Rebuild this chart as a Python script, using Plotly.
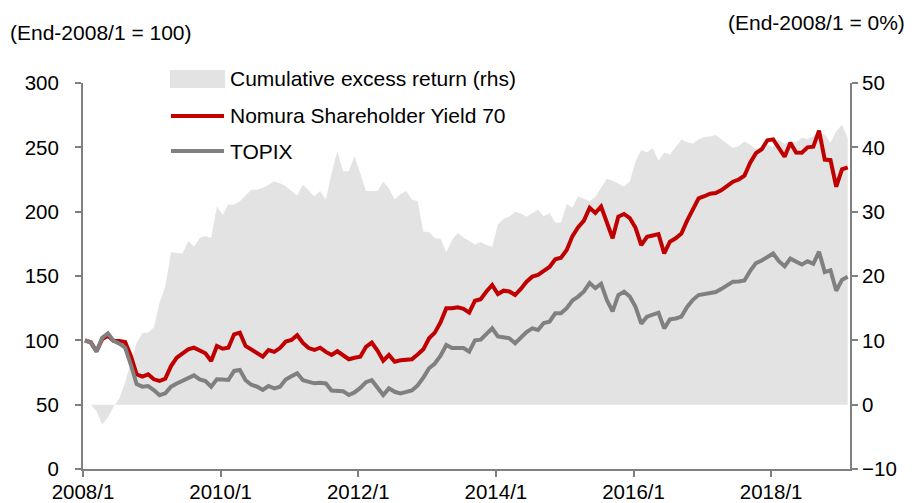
import plotly.graph_objects as go

# Month index 0 = 2008/1 ... 133 = 2019/2
nomura = [100, 98.5, 91.5, 101, 103.5, 99.5, 99.5, 98.7, 87.8, 73.6,
          71.8, 73.6, 69.7, 68.4, 70.2, 80, 86.5, 89.9, 93, 94.3,
          91.7, 89.9, 83.9, 95.6, 93.5, 94.3, 104.7, 106, 95.6, 93,
          90, 87.3, 92.5, 91, 94, 99, 100.3, 104, 98, 94,
          92.5, 94.3, 91, 88.6, 91.5, 88, 85.3, 86.5, 87.3, 95,
          98.2, 92, 84.2, 88.6, 83.4, 84.5, 85, 85.3, 89, 93,
          101.6, 106, 114, 124.9, 125, 125.7, 124.5, 121.5, 130.8, 132,
          138, 143, 136, 138.6, 138, 135.2, 140, 145.6, 149.5, 150.8,
          154, 157, 163, 164.2, 170.2, 181, 188, 193, 203, 199,
          204, 192.2, 179.3, 196.1, 198.2, 195, 187.5, 174, 180.5, 181.5,
          182.6, 167.6, 176.7, 179.3, 183, 193, 202, 210.4, 212, 214,
          214.5, 216.8, 220, 223.3, 225, 228, 238, 245.5, 248.5, 255.5,
          256.2, 249, 242.7, 253.6, 246, 245.8, 250, 250.5, 263, 240.5,
          240, 219.4, 232.9, 234.5]

topix = [100, 98.2, 91.2, 102, 105.4, 99.5, 97.4, 94.3, 81, 66,
         64, 64.5, 61.4, 57.3, 58.8, 64, 66.5, 68.4, 71, 72.8,
         69.7, 68.4, 64, 69.7, 69.5, 69.2, 76.2, 76.9, 69, 65.5,
         64, 61.4, 64.5, 62.7, 64, 69.5, 72, 74.4, 69, 67.5,
         66.6, 67, 66.5, 61, 61, 60.5, 57.5, 59.5, 63, 67.5,
         69, 63, 57.5, 62.7, 60, 58.8, 60, 61, 65, 71,
         78.3, 82, 88, 96.4, 94, 94, 94, 91.2, 100, 100.5,
         105, 109.3, 103, 102, 101.6, 97.7, 102, 106.5, 109.3, 108,
         113.5, 114.5, 121, 121, 125, 131, 134, 138, 144.5, 140.5,
         144, 131.3, 122.5, 135.2, 137.8, 134, 126, 113, 118.4, 120,
         121.5, 109.3, 116.3, 117, 118.5, 126, 131.5, 135.2, 136, 137,
         137.5, 140, 142.5, 145.6, 145.8, 146.5, 154, 160, 162, 165,
         167.5, 161.5, 157.5, 163.5, 161, 159, 161.5, 159.5, 168.9, 153,
         154.5, 138.5, 147, 149.5]

excess = [0, 0, -1, -3.1, -2, -0.3, 1.0, 3.5, 6.5, 9.6,
          11.1, 11.2, 12, 15.8, 18.4, 23.7, 23.6, 23.5, 25.4, 24.6,
          25.9, 26.2, 25.9, 30.8, 29.5, 31.1, 31.1, 31.6, 32.5, 33.4,
          33.4, 33.7, 34.2, 34.7, 34.4, 34, 33.2, 32.5, 34.2, 33.3,
          32.4, 33.2, 31.9, 36, 39.4, 36.3, 36.3, 38.6, 36, 33.2,
          33.2, 33.2, 34.7, 33.6, 31.9, 32.7, 33.2, 31.9, 31.6, 26.9,
          26.8, 25.9, 25.8, 23.7, 25.6, 26.7, 26, 25.5, 24.9, 25.3,
          24.8, 24.5, 28, 28.9, 29.2, 30, 29.7, 29.2, 29.7, 30.3,
          29.3, 29.8, 28.3, 28.3, 31.2, 30.6, 32.4, 32, 31.6, 32.3,
          33.8, 35.1, 34.8, 34.3, 33.9, 34.7, 37.8, 39.6, 39.2, 39.9,
          37.9, 39.2, 38.9, 40, 41.2, 40.8, 40.6, 41.2, 41.6, 41.7,
          41.9, 41.2, 40.6, 39.9, 40.2, 40.9, 40.4, 39.7, 39.9, 40.4,
          40, 41.2, 40.5, 41, 40.8, 41.5, 41.3, 41.8, 42.2, 42,
          40.7, 42.5, 43.5, 41.5]

months = list(range(len(nomura)))
tick_labels = ["2008/1", "2010/1", "2012/1", "2014/1", "2016/1", "2018/1"]
tick_pos = [24 * i - 0.35 for i in range(len(tick_labels))]

FONT = "Liberation Sans, Arial, sans-serif"
AXIS = "#808080"
RED = "#c00000"
GRAY = "#808080"
AREA = "#e3e3e3"
TICK_SIZE = 20.5
TEXT_SIZE = 21

fig = go.Figure()
fig.add_trace(go.Scatter(x=months, y=excess, yaxis="y2", mode="lines",
                         line=dict(width=0, color=AREA), fill="tozeroy",
                         fillcolor=AREA, name="Cumulative excess return (rhs)",
                         showlegend=False))
fig.add_trace(go.Scatter(x=months, y=nomura, mode="lines",
                         line=dict(width=4, color=RED),
                         name="Nomura Shareholder Yield 70", showlegend=False))
fig.add_trace(go.Scatter(x=months, y=topix, mode="lines",
                         line=dict(width=4, color=GRAY),
                         name="TOPIX", showlegend=False))

fig.update_layout(
    width=914, height=503,
    margin=dict(l=83, r=64, t=83, b=34),
    paper_bgcolor="white", plot_bgcolor="rgba(0,0,0,0)",
    font=dict(family=FONT, size=TICK_SIZE, color="#000"),
    xaxis=dict(range=[-0.35, 133.4], tickvals=tick_pos, ticktext=tick_labels,
               showgrid=False, zeroline=False, showline=True, linecolor=AXIS,
               linewidth=2, ticks="outside", ticklen=6, tickwidth=2,
               tickcolor=AXIS, tickfont=dict(size=TICK_SIZE), automargin=False,
               ticklabelstandoff=-3),
    yaxis=dict(range=[0, 300], dtick=50, showgrid=False, zeroline=False,
               showline=True, linecolor=AXIS, linewidth=2, ticks="outside",
               ticklen=6, tickwidth=2, tickcolor=AXIS,
               tickfont=dict(size=TICK_SIZE), overlaying="y2", automargin=False,
               ticklabelstandoff=12),
    yaxis2=dict(range=[-10, 50], dtick=10, side="right", showgrid=False,
                zeroline=False, showline=True, linecolor=AXIS, linewidth=2,
                ticks="outside", ticklen=6, tickwidth=2, tickcolor=AXIS,
                tickfont=dict(size=TICK_SIZE), anchor="x", automargin=False),
)

# manual legend
leg_items = [("Cumulative excess return (rhs)", "area"),
             ("Nomura Shareholder Yield 70", RED),
             ("TOPIX", GRAY)]
leg_y = [79, 116, 151]
for (label, kind), yp in zip(leg_items, leg_y):
    if kind == "area":
        fig.add_shape(type="rect", xref="paper", yref="paper",
                      x0=(170 - 83) / 767, x1=(225 - 83) / 767,
                      y0=(469 - yp - 9) / 386, y1=(469 - yp + 9) / 386,
                      fillcolor=AREA, line=dict(width=0))
    else:
        fig.add_shape(type="line", xref="paper", yref="paper",
                      x0=(171 - 83) / 767, x1=(224 - 83) / 767,
                      y0=(469 - yp) / 386, y1=(469 - yp) / 386,
                      line=dict(color=kind, width=4))
    fig.add_annotation(text=label, xref="paper", yref="paper",
                       x=(228 - 83) / 767, y=(469 - yp) / 386,
                       xanchor="left", yanchor="middle", showarrow=False,
                       font=dict(size=TEXT_SIZE))

fig.add_annotation(text="(End-2008/1 = 100)", xref="paper", yref="paper",
                   x=(8 - 83) / 767, y=(469 - 33) / 386,
                   xanchor="left", yanchor="middle", showarrow=False,
                   font=dict(size=TEXT_SIZE))
fig.add_annotation(text="(End-2008/1 = 0%)", xref="paper", yref="paper",
                   x=(907 - 83) / 767, y=(469 - 22) / 386,
                   xanchor="right", yanchor="middle", showarrow=False,
                   font=dict(size=TEXT_SIZE))

fig.write_html("out.html",
               config={"displayModeBar": False},
               post_script="document.body.style.margin='0';"
                           "document.body.style.overflow='hidden';")
